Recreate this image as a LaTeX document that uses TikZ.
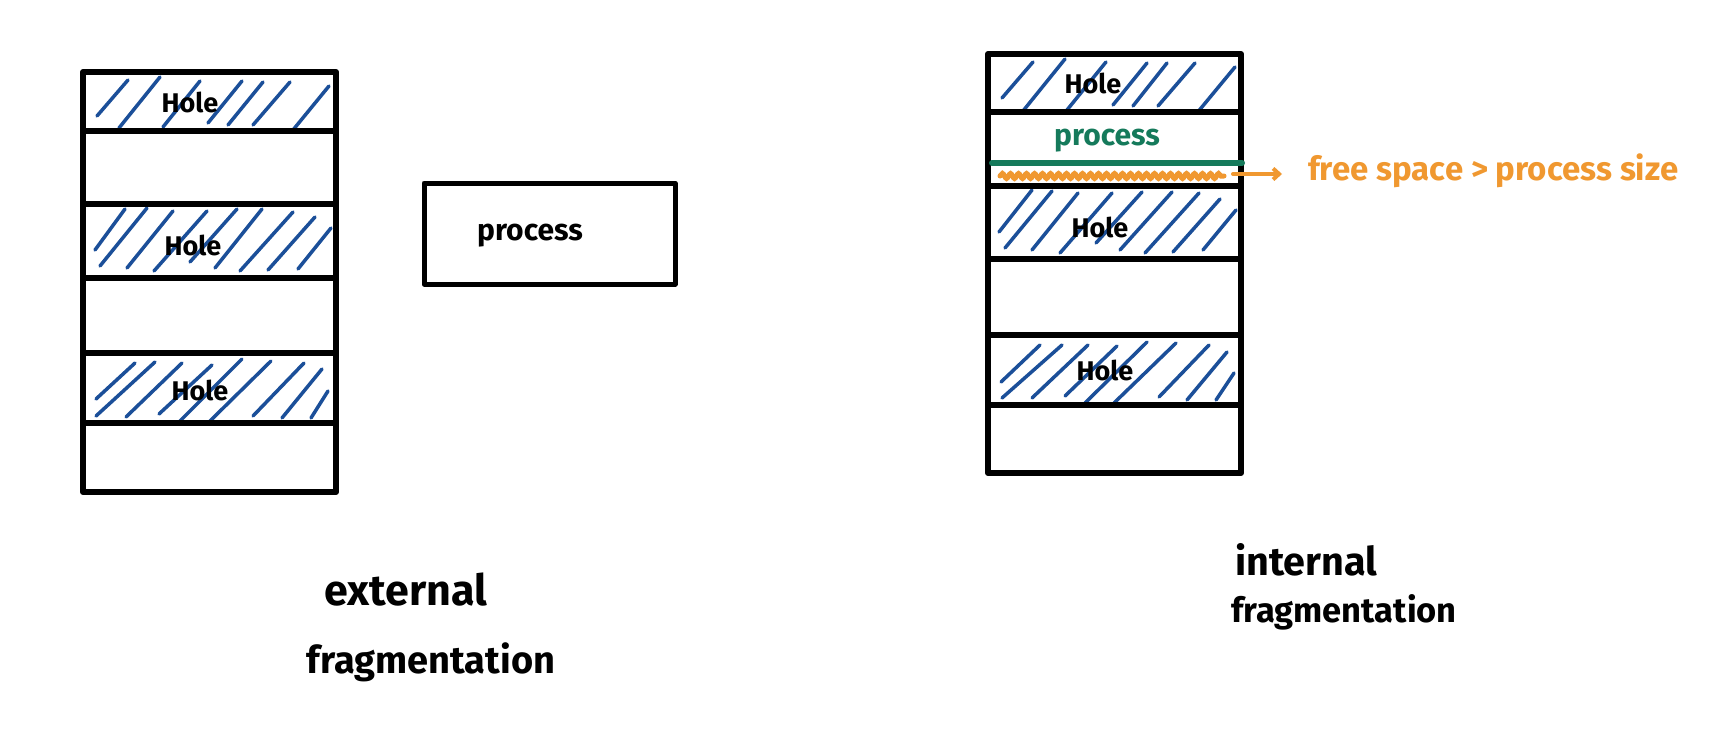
\documentclass[tikz,border=0pt]{standalone}
\usepackage{fontspec}
\setmainfont{Fira Sans}
\usetikzlibrary{decorations.pathmorphing,arrows.meta}
\definecolor{hatchblue}{RGB}{27,79,153}
\definecolor{procgreen}{RGB}{21,122,91}
\definecolor{noteorange}{RGB}{240,152,48}
\begin{document}
\begin{tikzpicture}[x=1pt,y=-1pt,
  band/.style={draw=black, line width=6pt, minimum width=253pt, inner sep=0pt, outer sep=0pt, anchor=north west, line join=round},
  hatch/.style={hatchblue, line width=3.5pt, line cap=round},
  holetext/.style={font=\fontsize{27}{30}\selectfont\bfseries, inner sep=0pt},
  proctext/.style={font=\fontsize{30}{34}\selectfont\bfseries, inner sep=0pt},
  bigtext/.style={inner sep=0pt, anchor=base},
  notetext/.style={noteorange, font=\fontsize{33}{36}\selectfont\bfseries, inner sep=0pt, anchor=base west}]
\useasboundingbox[fill=white] (0,0) rectangle (1712,741);

% ---- hatches, left column
\foreach \a/\b/\c/\d in {97/116/128/80, 119/128/160/77, 163/127/200/81, 208/123/242/81, 228/125/263/82, 253/125/290/82, 293/130/329/86,
  95/250/125/209, 100/266/147/208, 127/268/173/211, 154/271/207/211, 190/262/237/209, 215/268/262/209, 240/271/293/212, 268/270/315/217, 298/269/331/228,
  96/399/135/363, 96/416/155/362, 126/417/182/363, 159/414/212/365, 179/422/242/359, 209/422/271/361, 253/416/304/363, 282/418/322/369, 311/418/328/391}
  \draw[hatch] (\a,\b) -- (\c,\d);
% ---- hatches, right column
\foreach \a/\b/\c/\d in {1002/98/1033/62, 1023/111/1065/59, 1067/110/1106/62, 1113/105/1147/63, 1133/106/1167/63, 1158/106/1195/63, 1197/113/1235/67,
  999/232/1032/190, 1005/248/1052/191, 1032/250/1078/193, 1060/253/1112/193, 1096/243/1142/192, 1120/250/1172/192, 1145/253/1199/193, 1173/252/1220/199, 1203/250/1236/210,
  1001/382/1040/345, 1002/398/1062/345, 1032/398/1088/345, 1065/396/1117/346, 1085/403/1147/342, 1114/403/1176/343, 1159/397/1209/345, 1187/400/1227/352, 1216/400/1234/373}
  \draw[hatch] (\a,\b) -- (\c,\d);

% ---- hole labels
\node[holetext] (lh1) at (190,102) {Hole};
\node[holetext] (lh2) at (193,245) {Hole};
\node[holetext] (lh3) at (200,390) {Hole};
\node[holetext] (rh1) at (1093,83) {Hole};
\node[holetext] (rh2) at (1100,227) {Hole};
\node[holetext] (rh3) at (1105,370) {Hole};

% ---- left memory column
\node[band, minimum height=59pt] (L1) at (83,72) {};
\node[band, minimum height=73pt] (L2) at (83,131) {};
\node[band, minimum height=74pt] (L3) at (83,204) {};
\node[band, minimum height=75pt] (L4) at (83,278) {};
\node[band, minimum height=70pt] (L5) at (83,353) {};
\node[band, minimum height=69pt] (L6) at (83,423) {};

% ---- right memory column
\node[band, minimum height=58pt] (R1) at (988,54) {};
\node[band, minimum height=74pt] (R2) at (988,112) {};
\node[band, minimum height=73pt] (R3) at (988,186) {};
\node[band, minimum height=76pt] (R4) at (988,259) {};
\node[band, minimum height=70pt] (R5) at (988,335) {};
\node[band, minimum height=68pt] (R6) at (988,405) {};

% ---- process box
\node[draw=black, line width=5pt, minimum width=251pt, minimum height=101pt, inner sep=0pt, line join=round] (pbox) at (549.5,233.5) {};
\node[proctext] (ptext) at (530,236) {process};

% ---- allocated process in partition
\node[proctext, procgreen] (gtext) at (1107,141) {process};
\draw[procgreen, line width=6pt, line cap=round] (992,163) -- (1242,163);
\draw[noteorange, line width=5pt, line cap=round, decorate, decoration={snake, amplitude=2.5pt, segment length=8pt}] (1000,176) -- (1224,176);
\node[notetext] (note) at (1308,180) {free space > process size};
\coordinate (arrstart) at (1233,174);
\draw[noteorange, line width=4pt, line cap=round, shorten >=26pt, -{Straight Barb[length=6pt,width=11pt]}] (arrstart) -- (note.west |- arrstart);

% ---- captions
\node[bigtext, font=\fontsize{43}{46}\selectfont\bfseries] (ext1) at (406,605) {external};
\node[bigtext, font=\fontsize{38}{41}\selectfont\bfseries] (ext2) at (431,673) {fragmentation};
\node[bigtext, font=\fontsize{39.5}{42}\selectfont\bfseries] (int1) at (1306,575) {internal};
\node[bigtext, font=\fontsize{34.5}{38}\selectfont\bfseries] (int2) at (1344,622) {fragmentation};
\end{tikzpicture}
\end{document}
